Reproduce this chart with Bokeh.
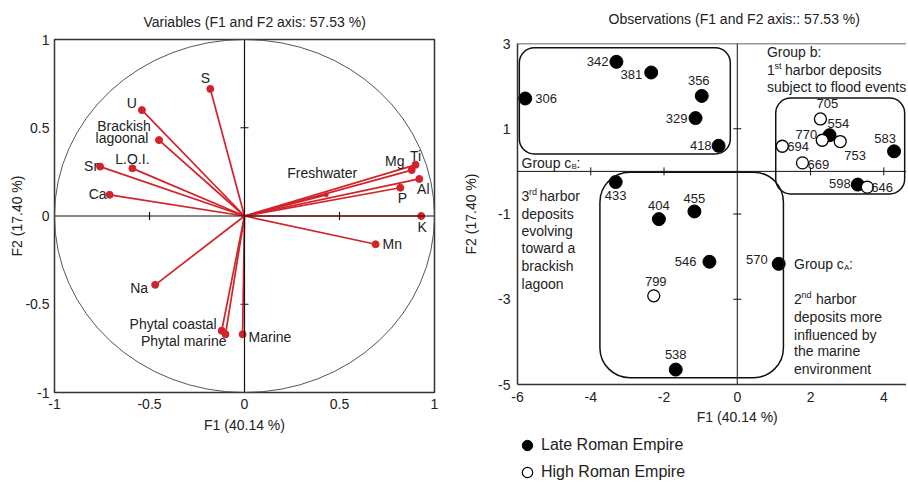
import math
from bokeh.plotting import figure
from bokeh.layouts import row, column
from bokeh.models import (ColumnDataSource, Span, BoxAnnotation, FixedTicker,
                          NumeralTickFormatter, Legend, LegendItem)
from bokeh.core.properties import value
from bokeh.embed import file_html
from bokeh.resources import INLINE

FONT = "Liberation Sans"
RED = "#d2232a"
INK = "#333333"
TXT = "#222222"

# ---------------- data: variables (correlation circle) ----------------
var_names = ["S", "U", "Brackish lagoonal", "L.O.I.", "Sr", "Ca", "Mg", "Ti", "Al", "P",
             "Freshwater", "K", "Mn", "Na", "Phytal coastal", "Phytal marine", "Marine"]
var_f1 = [-0.18, -0.54, -0.45, -0.59, -0.76, -0.71, 0.88, 0.90, 0.92, 0.82,
          0.43, 0.93, 0.69, -0.47, -0.12, -0.10, -0.01]
var_f2 = [0.72, 0.60, 0.43, 0.27, 0.28, 0.12, 0.26, 0.29, 0.21, 0.16,
          0.12, 0.00, -0.16, -0.39, -0.65, -0.67, -0.67]

# ---------------- data: observations ----------------
obs_ids = ["306", "342", "381", "356", "329", "418", "705", "554", "770", "753", "694",
           "669", "583", "598", "646", "433", "404", "455", "546", "570", "799", "538"]
obs_f1 = [-5.79, -3.30, -2.35, -0.97, -1.14, -0.51, 2.27, 2.52, 2.32, 2.81, 1.23,
          1.78, 4.28, 3.29, 3.55, -3.32, -2.14, -1.17, -0.76, 1.13, -2.28, -1.68]
obs_f2 = [1.71, 2.57, 2.32, 1.77, 1.25, 0.60, 1.23, 0.85, 0.73, 0.70, 0.59,
          0.20, 0.47, -0.31, -0.37, -0.25, -1.12, -0.94, -2.12, -2.17, -2.92, -4.65]
obs_period = ["Late", "Late", "Late", "Late", "Late", "Late", "High", "Late", "High", "High", "High",
              "High", "Late", "Late", "High", "Late", "Late", "Late", "Late", "Late", "High", "Late"]

left_ticks = [-1, -0.5, 0, 0.5, 1]
right_xticks = [-6, -4, -2, 0, 2, 4]
right_yticks = [-5, -3, -1, 1, 3]

# group boxes (F1/F2 extents)
group_left = [-5.95, 1.05, -3.75]
group_right = [-0.19, 4.57, 1.26]
group_top = [2.90, 1.72, -0.02]
group_bottom = [0.41, -0.53, -4.84]

# ---------------- label placement (style) ----------------
var_label_style = {
    "S": ("center", -5, -11), "U": ("center", -10, -7), "L.O.I.": ("center", 0, -9),
    "Sr": ("center", -9, -1), "Ca": ("center", -12, -1), "Mg": ("center", -17, -9),
    "Ti": ("center", 0, -9), "Al": ("center", 4, 10), "P": ("center", 2, 10),
    "Freshwater": ("center", -4, -22), "K": ("center", 1, 11), "Mn": ("left", 7, 0),
    "Na": ("center", -16, 3), "Phytal coastal": ("right", -5, -7),
    "Phytal marine": ("right", 1, 7), "Marine": ("left", 6, 3),
}
obs_label_style = {
    "306": ("left", 10, 0), "342": ("right", -8, 0), "381": ("right", -9, 2),
    "356": ("center", -3, -15), "329": ("right", -8, 0), "418": ("right", -7, 0),
    "705": ("center", 7, -15), "554": ("left", -2, -12), "770": ("right", -5, -6),
    "753": ("left", 4, 14), "694": ("left", 5, 0), "669": ("left", 5, 2),
    "583": ("center", -9, -13), "598": ("right", -7, -1), "646": ("left", 4, 0),
    "433": ("center", 0, 13), "404": ("center", 0, -14), "455": ("center", 0, -13),
    "546": ("right", -13, 0), "570": ("right", -11, -4), "799": ("center", 2, -14),
    "538": ("center", 0, -15),
}


def style_axes(p, size="14px"):
    for ax in (p.xaxis[0], p.yaxis[0]):
        ax.major_tick_line_color = None
        ax.minor_tick_line_color = None
        ax.major_tick_out = 0
        ax.major_tick_in = 0
        ax.major_label_text_font = FONT
        ax.major_label_text_font_size = size
        ax.major_label_text_color = TXT
        ax.axis_label_text_font = FONT
        ax.axis_label_text_font_size = size
        ax.axis_label_text_font_style = "normal"
        ax.axis_label_text_color = TXT
    p.grid.visible = False
    p.background_fill_color = "white"
    p.border_fill_color = "white"


def strip(width, height, x_range, left):
    s = figure(width=width, height=height, x_range=x_range, y_range=(0, height),
               min_border_left=left, min_border_right=0, min_border_top=0, min_border_bottom=0,
               output_backend="svg", toolbar_location=None)
    s.axis.visible = False
    s.grid.visible = False
    s.outline_line_color = None
    s.background_fill_color = "white"
    s.border_fill_color = "white"
    return s


# =============== left figure: variables ===============
p1 = figure(width=460, height=482, x_range=(-1, 1), y_range=(-1, 1),
            min_border_left=54, min_border_right=26, min_border_top=39, min_border_bottom=90,
            output_backend="svg", toolbar_location=None,
            title="Variables (F1 and F2 axis: 57.53 %)")
style_axes(p1)
p1.title.align = "left"
p1.title.text_font = FONT
p1.title.text_font_size = "14px"
p1.title.text_font_style = "normal"
p1.title.text_color = TXT
p1.title.offset = 89
p1.title.standoff = 19
p1.outline_line_color = INK
p1.outline_line_width = 1.5
p1.xaxis.axis_line_color = None
p1.yaxis.axis_line_color = None
p1.xaxis.ticker = FixedTicker(ticks=left_ticks)
p1.yaxis.ticker = FixedTicker(ticks=left_ticks)
p1.xaxis.formatter = NumeralTickFormatter(format="0.[0]")
p1.yaxis.formatter = NumeralTickFormatter(format="0.[0]")
p1.xaxis.axis_label = "F1 (40.14 %)"
p1.yaxis.axis_label = "F2 (17.40 %)"
p1.xaxis.major_label_standoff = 6
p1.xaxis.axis_label_standoff = 5
p1.yaxis.major_label_standoff = 5
p1.yaxis.axis_label_standoff = -3

p1.ellipse(x=[0], y=[0], width=[2], height=[2], fill_color=None, line_color="#555555", line_width=1)
p1.add_layout(Span(location=0, dimension="width", line_color="#111111", line_width=1.2))
p1.add_layout(Span(location=0, dimension="height", line_color="#111111", line_width=1.2))
p1.scatter(x=[-0.5, 0.5], y=[0, 0], marker="dash", angle=math.pi / 2, size=8, line_color="#111111", line_width=1.2)
p1.scatter(x=[0, 0], y=[-0.5, 0.5], marker="dash", size=8, line_color="#111111", line_width=1.2)

vsrc = ColumnDataSource(dict(x0=[0] * len(var_f1), y0=[0] * len(var_f1), x=var_f1, y=var_f2))
p1.segment(x0="x0", y0="y0", x1="x", y1="y", source=vsrc, line_color=RED, line_width=1.7)
sizes = [4 if n == "Freshwater" else 7 for n in var_names]
p1.scatter(x=var_f1, y=var_f2, size=sizes, fill_color=RED, line_color=RED)

lab = dict(x=[], y=[], text=[], align=[], dx=[], dy=[])
for n, xv, yv in zip(var_names, var_f1, var_f2):
    if n == "Brackish lagoonal":
        for t, dx, dy in (("Brackish", -35, -14), ("lagoonal", -37, -2)):
            lab["x"].append(xv); lab["y"].append(yv); lab["text"].append(t)
            lab["align"].append("center"); lab["dx"].append(dx); lab["dy"].append(dy)
        continue
    a, dx, dy = var_label_style[n]
    lab["x"].append(xv); lab["y"].append(yv); lab["text"].append(n)
    lab["align"].append(a); lab["dx"].append(dx); lab["dy"].append(dy)
p1.text(x="x", y="y", text="text", source=ColumnDataSource(lab), x_offset="dx", y_offset="dy",
        text_align="align", text_baseline="middle", text_font=value(FONT),
        text_font_size="14px", text_color=TXT)

# =============== right figure: observations ===============
X2 = (-6, 4.62)
P2_LEFT = 53
P2_W = 446
P0_H = 30

p2 = figure(width=P2_W, height=408 - P0_H, x_range=X2, y_range=(-5, 3),
            min_border_left=P2_LEFT, min_border_right=0, min_border_top=43 - P0_H,
            min_border_bottom=24, output_backend="svg", toolbar_location=None)

# title strip above the observation plot
p0 = strip(P2_W, P0_H, p2.x_range, P2_LEFT)
p0.text(x=[0], y=[P0_H - 18], text=["Observations (F1 and F2 axis:: 57.53 %)"], x_offset=-3,
        text_align="center", text_baseline="middle", text_font=value(FONT),
        text_font_size="14px", text_color=TXT)

style_axes(p2)
p2.outline_line_color = None
for ax in (p2.xaxis[0], p2.yaxis[0]):
    ax.axis_line_color = INK
    ax.axis_line_width = 1.5
p2.xaxis.ticker = FixedTicker(ticks=right_xticks)
p2.yaxis.ticker = FixedTicker(ticks=right_yticks)
p2.xaxis.formatter = NumeralTickFormatter(format="0")
p2.yaxis.formatter = NumeralTickFormatter(format="0")
p2.yaxis.axis_label = "F2 (17.40 %)"
p2.xaxis.major_label_standoff = 7
p2.yaxis.major_label_standoff = 7
p2.yaxis.axis_label_standoff = 16
p2.add_layout(Span(location=3, dimension="width", line_color=INK, line_width=1.5))

p2.add_layout(Span(location=0, dimension="width", line_color="#111111", line_width=1))
p2.add_layout(Span(location=0, dimension="height", line_color="#111111", line_width=1))
p2.scatter(x=[-4, -2, 2, 4], y=[0, 0, 0, 0], marker="dash", angle=math.pi / 2, size=8,
           line_color="#111111", line_width=1)
p2.scatter(x=[0, 0, 0], y=[1, -1, -3], marker="dash", size=8, line_color="#111111", line_width=1)

for l, r, t, b, rad in zip(group_left, group_right, group_top, group_bottom, [15, 15, 30]):
    p2.add_layout(BoxAnnotation(left=l, right=r, top=t, bottom=b, fill_alpha=0, fill_color=None,
                                line_color="#111111", line_alpha=1, line_width=1.5,
                                border_radius=rad, editable=False))

late = dict(x=[], y=[])
high = dict(x=[], y=[])
for xv, yv, per in zip(obs_f1, obs_f2, obs_period):
    d = late if per == "Late" else high
    d["x"].append(xv); d["y"].append(yv)
p2.scatter(x="x", y="y", source=ColumnDataSource(late), size=13,
           fill_color="black", line_color="black")
p2.scatter(x="x", y="y", source=ColumnDataSource(high), size=12,
           fill_color="white", line_color="black", line_width=1.3)

olab = dict(x=[], y=[], text=[], align=[], dx=[], dy=[])
for i, xv, yv in zip(obs_ids, obs_f1, obs_f2):
    a, dx, dy = obs_label_style[i]
    olab["x"].append(xv); olab["y"].append(yv); olab["text"].append(i)
    olab["align"].append(a); olab["dx"].append(dx); olab["dy"].append(dy)
p2.text(x="x", y="y", text="text", source=ColumnDataSource(olab), x_offset="dx", y_offset="dy",
        text_align="align", text_baseline="middle", text_font=value(FONT),
        text_font_size="13px", text_color=TXT)

# group descriptions: (x, y, text, size, x_offset, y_offset)
notes = [
    (0.81, 2.79, "Group b:", 14, 0, 0),
    (0.81, 2.38, "1", 14, 0, 0), (0.81, 2.38, "st", 9, 7.5, -4), (0.81, 2.38, "harbor deposits", 14, 18, 0),
    (0.81, 1.97, "subject to flood events", 14, 0, 0),
    (-5.89, 0.20, "Group c", 14, 0, 0), (-5.89, 0.20, "B", 8, 50, 4), (-5.89, 0.20, ":", 14, 55, 0),
    (-5.89, -0.57, "3", 14, 0, 0), (-5.89, -0.57, "rd", 9, 7.5, -4), (-5.89, -0.57, "harbor", 14, 18, 0),
    (-5.89, -1.00, "deposits", 14, 0, 0), (-5.89, -1.39, "evolving", 14, 0, 0),
    (-5.89, -1.79, "toward a", 14, 0, 0), (-5.89, -2.21, "brackish", 14, 0, 0),
    (-5.89, -2.64, "lagoon", 14, 0, 0),
    (1.55, -2.17, "Group c", 14, 0, 0), (1.55, -2.17, "A", 8, 50, 4), (1.55, -2.17, ":", 14, 55, 0),
    (1.55, -3.00, "2", 14, 0, 0), (1.55, -3.00, "nd", 9, 7.5, -4), (1.55, -3.00, "harbor", 14, 22, 0),
    (1.55, -3.42, "deposits more", 14, 0, 0), (1.55, -3.83, "influenced by", 14, 0, 0),
    (1.55, -4.22, "the marine", 14, 0, 0), (1.55, -4.63, "environment", 14, 0, 0),
]
nsrc = ColumnDataSource(dict(x=[n[0] for n in notes], y=[n[1] for n in notes],
                             text=[n[2] for n in notes], fs=["%dpx" % n[3] for n in notes],
                             dx=[n[4] for n in notes], dy=[n[5] for n in notes]))
p2.text(x="x", y="y", text="text", source=nsrc, x_offset="dx", y_offset="dy",
        text_font_size="fs", text_align="left", text_baseline="middle",
        text_font=value(FONT), text_color=TXT)

# =============== strip below: x-axis title and legend ===============
P3_H = 74
p3 = strip(P2_W, P3_H, p2.x_range, P2_LEFT)
p3.text(x=[0], y=[P3_H - 8], text=["F1 (40.14 %)"], text_align="center", text_baseline="middle",
        text_font=value(FONT), text_font_size="14px", text_color=TXT)
nan = float("nan")
r_late = p3.scatter(x=[nan], y=[nan], size=13, fill_color="black", line_color="black")
r_high = p3.scatter(x=[nan], y=[nan], size=12, fill_color="white", line_color="black", line_width=1.2)
legend = Legend(items=[LegendItem(label="Late Roman Empire", renderers=[r_late]),
                       LegendItem(label="High Roman Empire", renderers=[r_high])],
                location=(-3, -3), orientation="vertical", glyph_width=26, glyph_height=26,
                spacing=1, label_standoff=1, padding=0, margin=0,
                label_text_font=FONT, label_text_font_size="16px", label_text_color=TXT,
                border_line_color=None, background_fill_alpha=0)
p3.add_layout(legend)

layout = row(p1, column(p0, p2, p3, spacing=0), spacing=0)
open("out.html", "w").write(file_html(layout, INLINE))
